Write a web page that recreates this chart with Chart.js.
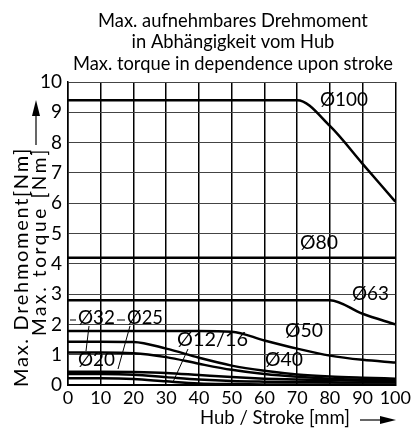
<!DOCTYPE html>
<html>
<head>
<meta charset="utf-8">
<script src="https://cdn.jsdelivr.net/npm/chart.js@4/dist/chart.umd.min.js"></script>
<style>
  html, body { margin: 0; padding: 0; background: #fff; }
  #wrap { width: 413px; height: 429px; }
</style>
</head>
<body>
<div id="wrap"><canvas id="torque"></canvas></div>
<script>
'use strict';
// stroke positions in mm
const strokes = [0, 10, 20, 30, 40, 50, 60, 70, 80, 90, 100];
const yTicks = [0, 1, 2, 3, 4, 5, 6, 7, 8, 9, 10];
const titleLines = ['Max. aufnehmbares Drehmoment', 'in Abhängigkeit vom Hub', 'Max. torque in dependence upon stroke'];

// max torque [Nm] per piston diameter
const d100 = [9.4, 9.4, 9.4, 9.4, 9.4, 9.4, 9.4, 9.4, 8.55, 7.3, 6.05];
const d80 = [4.2, 4.2, 4.2, 4.2, 4.2, 4.2, 4.2, 4.2, 4.2, 4.2, 4.2];
const d63 = [2.8, 2.8, 2.8, 2.8, 2.8, 2.8, 2.8, 2.8, 2.8, 2.35, 2.0];
const d50 = [1.78, 1.78, 1.78, 1.78, 1.78, 1.76, 1.47, 1.2, 0.97, 0.83, 0.74];
const d40 = [1.43, 1.43, 1.42, 1.2, 0.9, 0.64, 0.47, 0.35, 0.28, 0.24, 0.21];
const d32 = [1.07, 1.07, 1.05, 0.92, 0.7, 0.5, 0.36, 0.27, 0.21, 0.18, 0.16];
const d25 = [0.44, 0.44, 0.43, 0.4, 0.33, 0.26, 0.21, 0.18, 0.16, 0.14, 0.13];
const d20 = [0.36, 0.36, 0.34, 0.26, 0.18, 0.13, 0.11, 0.1, 0.09, 0.08, 0.08];
const d12 = [0.22, 0.22, 0.2, 0.12, 0.05, 0.03, 0.02, 0.02, 0.02, 0.02, 0.02];

const seriesNames = ['Ø100', 'Ø80', 'Ø63', 'Ø50', 'Ø40', 'Ø32', 'Ø25', 'Ø20', 'Ø12/16'];
const seriesValues = [d100, d80, d63, d50, d40, d32, d25, d20, d12];

const FONT = 'Lato, "DejaVu Sans", sans-serif';

const toPoints = function(vals){
  return strokes.map((s, i) => ({x: s, y: vals[i]}));
};

const datasets = seriesNames.map((name, i) => ({
  label: name,
  data: toPoints(seriesValues[i]),
  borderColor: '#000',
  borderWidth: 2.5,
  pointRadius: 0,
  fill: false,
  cubicInterpolationMode: 'monotone'
}));

// sets the font so that the text is `w` px wide
const fitFont = function(ctx, text, w){
  ctx.font = '20px ' + FONT;
  const size = 20 * w / ctx.measureText(text).width;
  ctx.font = size.toFixed(2) + 'px ' + FONT;
};

// fixed font size, letter spacing stretched to reach `w` px
const fitSpaced = function(ctx, text, size, w){
  ctx.letterSpacing = '0px';
  ctx.font = size + 'px ' + FONT;
  const extra = (w - ctx.measureText(text).width) / text.length;
  ctx.letterSpacing = extra.toFixed(2) + 'px';
};

const arrow = function(ctx, x1, y1, x2, y2){
  const ang = Math.atan2(y2 - y1, x2 - x1);
  ctx.beginPath();
  ctx.moveTo(x1, y1);
  ctx.lineTo(x2 - 10 * Math.cos(ang), y2 - 10 * Math.sin(ang));
  ctx.stroke();
  ctx.beginPath();
  ctx.moveTo(x2, y2);
  ctx.lineTo(x2 - 16 * Math.cos(ang) + 4 * Math.sin(ang), y2 - 16 * Math.sin(ang) - 4 * Math.cos(ang));
  ctx.lineTo(x2 - 16 * Math.cos(ang) - 4 * Math.sin(ang), y2 - 16 * Math.sin(ang) + 4 * Math.cos(ang));
  ctx.closePath();
  ctx.fill();
};

const annotate = {
  id: 'annotate',
  afterDraw(chart){
    const ctx = chart.ctx;
    ctx.save();
    ctx.fillStyle = '#000';
    ctx.strokeStyle = '#000';
    ctx.textBaseline = 'middle';

    // title
    fitFont(ctx, titleLines[0], 270);
    ctx.textAlign = 'center';
    titleLines.forEach((t, i) => ctx.fillText(t, 233, 21 + i * 21.5));

    // series labels: text, left, right, middle
    ctx.textAlign = 'left';
    [
      ['Ø100', 320, 368, 100],
      ['Ø80', 300, 338, 243],
      ['Ø63', 352, 389, 294],
      ['Ø50', 285, 323, 331],
      ['Ø40', 265, 303, 360],
      ['Ø12/16', 177, 248, 340],
      ['Ø32', 78, 115, 318],
      ['Ø25', 127, 163, 318],
      ['Ø20', 78, 115, 360]
    ].forEach(l => {
      fitFont(ctx, l[0], l[2] - l[1]);
      ctx.fillText(l[0], l[1], l[3]);
    });

    // dashes and leader lines
    ctx.lineWidth = 1;
    ctx.beginPath();
    ctx.moveTo(70, 320); ctx.lineTo(76, 320);
    ctx.moveTo(117, 320); ctx.lineTo(125, 320);
    ctx.moveTo(89, 326); ctx.lineTo(86, 351);
    ctx.moveTo(130, 326); ctx.lineTo(118, 369);
    ctx.moveTo(188, 349); ctx.lineTo(173, 382);
    ctx.stroke();

    // y axis title
    ctx.save();
    ctx.textBaseline = 'alphabetic';
    ctx.translate(28, 147);
    ctx.rotate(-Math.PI / 2);
    ctx.textAlign = 'right';
    fitSpaced(ctx, 'Max. Drehmoment[Nm]', 20, 240);
    ctx.fillText('Max. Drehmoment[Nm]', 0, 0);
    ctx.translate(0, 18);
    fitSpaced(ctx, 'Max. torque [Nm]', 19, 189);
    ctx.fillText('Max. torque [Nm]', 0, 0);
    ctx.letterSpacing = '0px';
    ctx.restore();
    ctx.lineWidth = 1.2;
    arrow(ctx, 36, 145, 36, 100);

    // x axis title
    ctx.textAlign = 'left';
    fitFont(ctx, 'Hub / Stroke [mm]', 150);
    ctx.fillText('Hub / Stroke [mm]', 200, 418);
    arrow(ctx, 360, 420, 396, 420);
    ctx.restore();
  }
};

new Chart(document.getElementById('torque'), {
  type: 'line',
  data: { datasets: datasets },
  plugins: [annotate],
  options: {
    responsive: true,
    maintainAspectRatio: false,
    animation: false,
    layout: { padding: { top: 82, right: 12, left: 0, bottom: 0 } },
    plugins: {
      legend: { display: false },
      tooltip: { enabled: false },
      title: { display: false }
    },
    scales: {
      x: {
        type: 'linear',
        min: 0,
        max: 100,
        afterFit(scale){ scale.height = 44; },
        afterBuildTicks(scale){ scale.ticks = strokes.map(v => ({value: v})); },
        ticks: { color: '#000', padding: 2, maxRotation: 0, minRotation: 0, autoSkip: false, font: { family: FONT, size: 18 } },
        grid: { color: '#000', lineWidth: 1.5, drawTicks: false },
        border: { color: '#000', width: 2 }
      },
      y: {
        min: 0,
        max: 10,
        afterFit(scale){ scale.width = 68; },
        afterBuildTicks(scale){ scale.ticks = yTicks.map(v => ({value: v})); },
        ticks: { color: '#000', padding: 6, font: { family: FONT, size: 19 } },
        grid: { color: '#444', lineWidth: 1, drawTicks: false },
        border: { color: '#000', width: 1.5 }
      }
    }
  }
});
</script>
</body>
</html>
